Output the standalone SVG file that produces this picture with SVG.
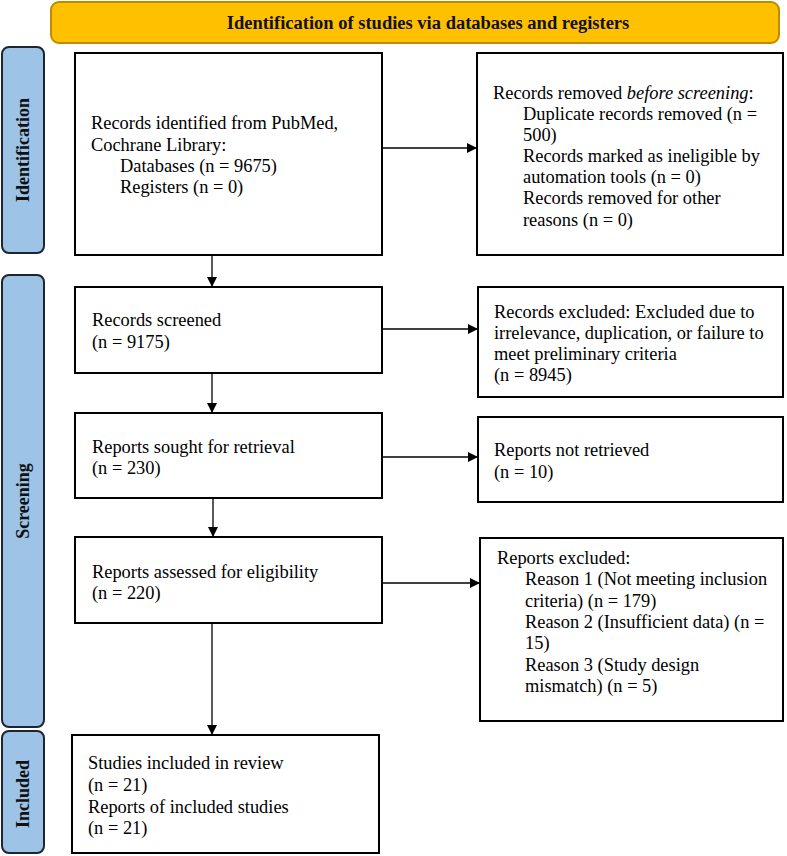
<svg xmlns="http://www.w3.org/2000/svg" width="787" height="856" viewBox="0 0 787 856">
<defs>
<marker id="ah" markerWidth="10" markerHeight="10" refX="10" refY="5" orient="auto" markerUnits="userSpaceOnUse">
<path d="M0,0 L10,5 L0,10 Z" fill="#000"/>
</marker>
<style>
.box{fill:#fff;stroke:#000;stroke-width:2}
.phase{fill:#9DC3E6;stroke:#1c2530;stroke-width:2}
.t{font-family:"Liberation Serif","Times New Roman",serif;font-size:18.4px;fill:#000}
.pt{font-family:"Liberation Serif","Times New Roman",serif;font-size:18px;font-weight:bold;fill:#111;text-anchor:middle}
.conn{stroke:#000;stroke-width:1.3;fill:none;marker-end:url(#ah)}
</style>
</defs>
<rect width="787" height="856" fill="#fff"/>

<g id="banner">
<rect x="51" y="2" width="728" height="41" rx="8" fill="#FFC000" stroke="#C08A00" stroke-width="2"/>
<text x="428" y="29" class="pt" style="font-size:18.5px">Identification of studies via databases and registers</text>
</g>

<g id="phase-identification">
<rect class="phase" x="2" y="47" width="42" height="206" rx="7"/>
<text class="pt" transform="translate(29,150) rotate(-90)">Identification</text>
</g>
<g id="phase-screening">
<rect class="phase" x="2" y="275" width="42" height="452" rx="7"/>
<text class="pt" transform="translate(29,501) rotate(-90)">Screening</text>
</g>
<g id="phase-included">
<rect class="phase" x="2" y="731" width="42" height="122" rx="7"/>
<text class="pt" transform="translate(29,794) rotate(-90)">Included</text>
</g>

<g id="n-identified">
<rect class="box" x="75" y="53" width="307" height="202"/>
<text class="t" x="91" y="129">Records identified from PubMed,</text>
<text class="t" x="91" y="151">Cochrane Library:</text>
<text class="t" x="120" y="172">Databases (n = 9675)</text>
<text class="t" x="120" y="193">Registers (n = 0)</text>
</g>

<g id="n-removed">
<rect class="box" x="477" y="53" width="306" height="202"/>
<text class="t" x="493" y="99">Records removed <tspan font-style="italic">before screening</tspan>:</text>
<text class="t" x="523" y="120">Duplicate records removed (n =</text>
<text class="t" x="523" y="141">500)</text>
<text class="t" x="523" y="162">Records marked as ineligible by</text>
<text class="t" x="523" y="183">automation tools (n = 0)</text>
<text class="t" x="523" y="204">Records removed for other</text>
<text class="t" x="523" y="226">reasons (n = 0)</text>
</g>

<g id="n-screened">
<rect class="box" x="75" y="287" width="307" height="86"/>
<text class="t" x="92" y="326">Records screened</text>
<text class="t" x="92" y="348">(n = 9175)</text>
</g>

<g id="n-excluded">
<rect class="box" x="478" y="287" width="305" height="110"/>
<text class="t" x="494" y="318">Records excluded: Excluded due to</text>
<text class="t" x="494" y="339">irrelevance, duplication, or failure to</text>
<text class="t" x="494" y="360">meet preliminary criteria</text>
<text class="t" x="494" y="381">(n = 8945)</text>
</g>

<g id="n-sought">
<rect class="box" x="75" y="413" width="307" height="85"/>
<text class="t" x="92" y="453">Reports sought for retrieval</text>
<text class="t" x="92" y="474">(n = 230)</text>
</g>

<g id="n-notretrieved">
<rect class="box" x="478" y="417" width="305" height="85"/>
<text class="t" x="494" y="456">Reports not retrieved</text>
<text class="t" x="494" y="478">(n = 10)</text>
</g>

<g id="n-assessed">
<rect class="box" x="75" y="537" width="307" height="86"/>
<text class="t" x="92" y="578">Reports assessed for eligibility</text>
<text class="t" x="92" y="599">(n = 220)</text>
</g>

<g id="n-reports-excluded">
<rect class="box" x="480" y="538" width="303" height="183"/>
<text class="t" x="497" y="564">Reports excluded:</text>
<text class="t" x="525" y="585">Reason 1 (Not meeting inclusion</text>
<text class="t" x="525" y="607">criteria) (n = 179)</text>
<text class="t" x="525" y="628">Reason 2 (Insufficient data) (n =</text>
<text class="t" x="525" y="649">15)</text>
<text class="t" x="525" y="671">Reason 3 (Study design</text>
<text class="t" x="525" y="692">mismatch) (n = 5)</text>
</g>

<g id="n-included">
<rect class="box" x="72" y="735" width="307" height="118"/>
<text class="t" x="88" y="769">Studies included in review</text>
<text class="t" x="88" y="791">(n = 21)</text>
<text class="t" x="88" y="813">Reports of included studies</text>
<text class="t" x="88" y="834">(n = 21)</text>
</g>

<g id="connectors">
<line class="conn" x1="212" y1="255" x2="212" y2="287"/>
<line class="conn" x1="212" y1="373" x2="212" y2="413"/>
<line class="conn" x1="213" y1="498" x2="213" y2="537"/>
<line class="conn" x1="212" y1="623" x2="212" y2="735"/>
<line class="conn" x1="383" y1="148" x2="477" y2="148"/>
<line class="conn" x1="383" y1="329" x2="478" y2="329"/>
<line class="conn" x1="383" y1="457" x2="478" y2="457"/>
<line class="conn" x1="383" y1="583" x2="480" y2="583"/>
</g>
</svg>
